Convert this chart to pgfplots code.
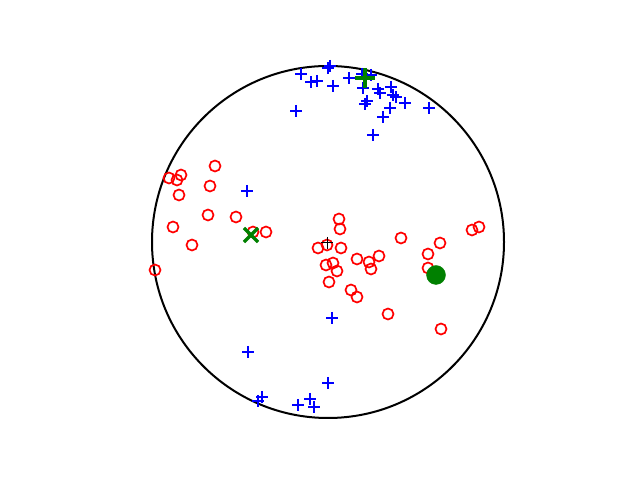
\documentclass[border=0pt]{standalone}
\usepackage{pgfplots}
\pgfplotsset{compat=1.18}
\definecolor{mplgreen}{RGB}{0,128,0}
\begin{document}
\begin{tikzpicture}
\begin{axis}[
  hide axis, scale only axis,
  x=1bp, y=1bp,
  xmin=-328, xmax=312, ymin=-238, ymax=242,
  clip=false,
]
\path (rel axis cs:0,0) rectangle (rel axis cs:1,1);
\draw[black, line width=2bp] (axis cs:0,0) circle [radius=176];
% poles (red circles)
\addplot[only marks, mark=o, red, mark size=5.5bp, line width=1.7bp] coordinates {
(-113,76)(-159,64)(-147,67)(-151,62)(-149,47)(-118,56)(-120,27)(-92,25)
(-155,15)(-136,-3)(-173,-28)(-75,10)(-62,10)(11,23)(12,13)(-10,-6)(-1,-3)
(13,-6)(-2,-23)(5,-21)(9,-29)(1,-40)(29,-17)(41,-20)(51,-14)(43,-27)(73,4)
(23,-48)(29,-55)(60,-72)(100,-12)(112,-1)(100,-26)(144,12)(151,15)(113,-87)
};
% blue crosses
\addplot[only marks, mark=+, blue, mark size=6bp, line width=1.7bp] coordinates {
(-27,168)(0,174)(2,176)(-17,160)(-11,161)(5,156)(21,164)(34,168)(43,167)
(35,154)(39,141)(37,138)(50,153)(52,149)(63,155)(65,147)(68,145)(77,139)
(101,134)(62,134)(55,125)(-32,131)(45,107)(-81,51)(4,-76)(-80,-110)
(0,-141)(-66,-155)(-70,-159)(-30,-163)(-18,-157)(-14,-165)
};
\addplot[only marks, mark=+, black, mark size=6bp, line width=1bp] coordinates {(-1,-1)};
\addplot[only marks, mark=x, mplgreen, mark size=10bp, line width=3.3bp] coordinates {(-77,7)};
\addplot[only marks, mark=+, mplgreen, mark size=10bp, line width=3.3bp] coordinates {(37,164)};
\addplot[only marks, mark=*, mplgreen, mark size=9.5bp] coordinates {(108,-33)};
\end{axis}
\end{tikzpicture}
\end{document}
